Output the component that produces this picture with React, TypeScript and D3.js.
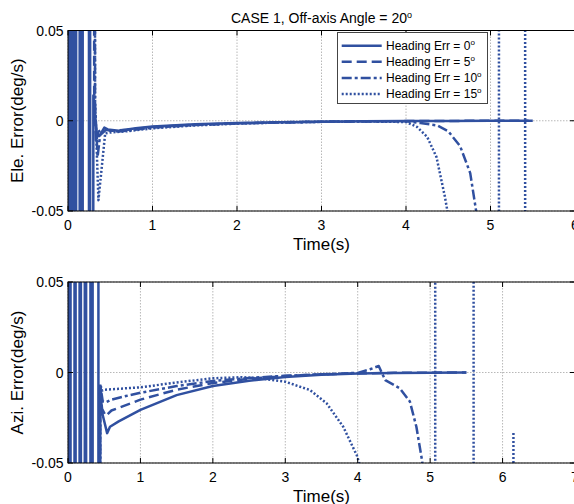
import React from "react";
import * as d3 from "d3";

type Pt = [number, number];

// line colour and styles for the 4 heading errors
const BLUE = "#3050a0";
const legendLabels = ["Heading Err = 0", "Heading Err = 5", "Heading Err = 10", "Heading Err = 15"];
const dashStyles = ["none", "10,5", "10,3,3,3", "2,2"];

const eleTicksX = [0, 1, 2, 3, 4, 5, 6];
const aziTicksX = [0, 1, 2, 3, 4, 5, 6, 7];
const yTicks = [-0.05, 0, 0.05];
const yTickLabels = ["-0.05", "0", "0.05"];

// Elevation rate error (deg/s), top panel
const eleH0: Pt[] = [
  [0.0, 1], [0.0, -1], [0.012, -1], [0.012, 1], [0.024, 1], [0.024, -1], [0.036, -1], [0.036, 1],
  [0.048, 1], [0.048, -1], [0.06, -1], [0.06, 1], [0.072, 1], [0.072, -1], [0.084, -1], [0.084, 1],
  [0.096, 1], [0.096, -1], [0.138, -1], [0.138, 1], [0.15, 1], [0.15, -1], [0.162, -1], [0.162, 1],
  [0.174, 1], [0.174, -1], [0.248, -1], [0.248, 1], [0.262, 1], [0.262, -1], [0.29, -1],
  [0.3, 0.014], [0.34, -0.008], [0.37, -0.0085], [0.43, -0.0038], [0.47, -0.0048], [0.6, -0.0055],
  [0.8, -0.0042], [1, -0.0032], [1.5, -0.002], [2, -0.0013], [2.5, -0.0009], [3, -0.0005],
  [3.5, -0.0003], [4, -0.0002], [4.5, -0.0001], [5, 0], [5.5, 0],
];
const eleH5: Pt[] = [
  [0.3, 1], [0.31, 0.016], [0.33, -0.012], [0.36, -0.006], [0.42, -0.0045], [0.5, -0.0055],
  [0.7, -0.005], [1, -0.0035], [1.5, -0.0022], [2, -0.0014], [2.5, -0.0009], [3, -0.0005],
  [3.5, -0.0003], [4, -0.0002], [4.5, -0.0001], [5, 0], [5.45, 0],
];
const eleH10: Pt[] = [
  [0.31, 1], [0.32, 0.01], [0.35, -0.02], [0.38, -0.008], [0.45, -0.005], [0.6, -0.006],
  [1, -0.0038], [1.5, -0.0024], [2, -0.0015], [2.5, -0.001], [3, -0.0006], [3.5, -0.0004],
  [4, -0.0003], [4.17, -0.0013], [4.37, -0.0026], [4.5, -0.0058], [4.64, -0.014], [4.76, -0.029],
  [4.83, -0.05], [4.86, -0.07],
];
const eleH15: Pt[] = [
  [0.3, 1], [0.32, 0.012], [0.36, -0.044], [0.44, -0.007], [0.5, -0.0065], [0.7, -0.0058],
  [1, -0.0042], [1.5, -0.0026], [2, -0.0016], [2.5, -0.001], [3, -0.0006], [3.5, -0.0004],
  [4, -0.0007], [4.13, -0.0034], [4.25, -0.0089], [4.36, -0.02], [4.46, -0.042], [4.49, -0.05],
  [4.55, -1], [5.1, -1], [5.1, 1], [5.41, 1], [5.41, -1],
];

// Azimuth rate error (deg/s), bottom panel
const aziH0: Pt[] = [
  [0.005, 1], [0.005, -1], [0.02, -1], [0.02, 1], [0.035, 1], [0.035, -1], [0.09, -1], [0.09, 1],
  [0.105, 1], [0.105, -1], [0.16, -1], [0.16, 1], [0.178, 1], [0.178, -1], [0.232, -1], [0.232, 1],
  [0.25, 1], [0.25, -1], [0.31, -1], [0.31, 1], [0.325, 1], [0.325, -1], [0.34, -1], [0.34, 1],
  [0.42, 1], [0.42, -1], [0.425, -1],
  [0.445, -0.008], [0.47, -0.022], [0.54, -0.0335], [0.58, -0.03], [0.7, -0.027], [1, -0.0207],
  [1.5, -0.0125], [2, -0.0075], [2.5, -0.0045], [3, -0.0025], [3.5, -0.0013], [4, -0.0006],
  [4.5, -0.0003], [5, -0.0001], [5.5, 0],
];
const aziH5: Pt[] = [
  [0.42, -1], [0.44, -0.0075], [0.47, -0.02], [0.52, -0.024], [0.6, -0.021], [0.8, -0.018],
  [1, -0.015], [1.5, -0.0095], [2, -0.0058], [2.5, -0.0035], [3, -0.002], [3.5, -0.001],
  [4, -0.0005], [4.5, -0.0002], [5, -0.0001], [5.5, 0],
];
const aziH10: Pt[] = [
  [0.43, -1], [0.445, -0.007], [0.48, -0.016], [0.52, -0.0165], [0.6, -0.015], [0.8, -0.013],
  [1, -0.0112], [1.5, -0.0075], [2, -0.0047], [2.5, -0.003], [3, -0.0018], [3.5, -0.001],
  [4, -0.0002], [4.17, 0.0018], [4.29, 0.0036], [4.38, -0.0042], [4.58, -0.0087], [4.72, -0.016],
  [4.81, -0.03], [4.89, -0.049], [4.92, -0.07],
];
const aziH15: Pt[] = [
  [0.43, -1], [0.445, -0.0065], [0.47, -0.01], [0.5, -0.0095], [0.7, -0.009], [1, -0.0082],
  [1.5, -0.0055], [2, -0.0032], [2.4, -0.0026], [2.65, -0.0032], [3, -0.0051], [3.34, -0.0097],
  [3.57, -0.017], [3.8, -0.03], [3.99, -0.046], [4.02, -0.05], [4.05, -1], [5.07, -1], [5.07, 1],
  [5.6, 1], [5.6, -1], [6.15, -1], [6.15, -0.033],
];

const FONT = "'Liberation Sans', Arial, Helvetica, sans-serif";
const LEFT = 68;
const RIGHT = 575;

function Panel(props: {
  id: string;
  top: number;
  bottom: number;
  xMax: number;
  xTicks: number[];
  series: Pt[][];
  yLabel: string;
  children?: React.ReactNode;
}) {
  const { id, top, bottom, xMax, xTicks, series, yLabel, children } = props;
  const x = d3.scaleLinear().domain([0, xMax]).range([LEFT, RIGHT]);
  const y = d3.scaleLinear().domain([-0.05, 0.05]).range([bottom, top]);
  const line = d3
    .line<Pt>()
    .x((d) => x(d[0]))
    .y((d) => y(d[1]));
  const tick = 5;

  return (
    <g>
      <defs>
        <clipPath id={id}>
          <rect x={LEFT} y={top} width={RIGHT - LEFT} height={bottom - top} />
        </clipPath>
      </defs>
      <rect x={LEFT} y={top} width={RIGHT - LEFT} height={bottom - top} fill="#fff" />

      {/* grid */}
      {xTicks.map((t) => (
        <line key={"gx" + t} x1={x(t)} x2={x(t)} y1={top} y2={bottom} stroke="#b8b8b8" strokeWidth={1} strokeDasharray="1.5,1.5" />
      ))}
      {yTicks.map((t) => (
        <line key={"gy" + t} x1={LEFT} x2={RIGHT} y1={y(t)} y2={y(t)} stroke="#b8b8b8" strokeWidth={1} strokeDasharray="1.5,1.5" />
      ))}

      {/* data */}
      <g clipPath={`url(#${id})`}>
        {series.map((s, i) => (
          <path
            key={i}
            d={line(s) ?? ""}
            fill="none"
            stroke={BLUE}
            strokeWidth={2.5}
            strokeDasharray={dashStyles[i]}
            strokeLinejoin="round"
          />
        ))}
      </g>

      {/* box and ticks */}
      <rect x={LEFT} y={top} width={RIGHT - LEFT} height={bottom - top} fill="none" stroke="#000" strokeWidth={1} />
      {xTicks.map((t) => (
        <g key={"tx" + t}>
          <line x1={x(t)} x2={x(t)} y1={bottom} y2={bottom - tick} stroke="#000" />
          <line x1={x(t)} x2={x(t)} y1={top} y2={top + tick} stroke="#000" />
          <text x={x(t)} y={bottom + 19} textAnchor="middle" fontSize={14} fontFamily={FONT}>
            {t}
          </text>
        </g>
      ))}
      {yTicks.map((t, i) => (
        <g key={"ty" + t}>
          <line x1={LEFT} x2={LEFT + tick} y1={y(t)} y2={y(t)} stroke="#000" />
          <line x1={RIGHT} x2={RIGHT - tick} y1={y(t)} y2={y(t)} stroke="#000" />
          <text x={LEFT - 4.5} y={y(t) + 5} textAnchor="end" fontSize={14} fontFamily={FONT}>
            {yTickLabels[i]}
          </text>
        </g>
      ))}

      <text x={(LEFT + RIGHT) / 2} y={bottom + 38.5} textAnchor="middle" fontSize={17} fontFamily={FONT}>
        Time(s)
      </text>
      <text
        transform={`translate(23,${(top + bottom) / 2}) rotate(-90)`}
        textAnchor="middle"
        fontSize={17}
        fontFamily={FONT}
      >
        {yLabel}
      </text>
      {children}
    </g>
  );
}

function Legend() {
  const x0 = 337.5;
  const y0 = 32.5;
  const rowH = 16.1;
  return (
    <g>
      <rect x={x0} y={y0} width={150} height={71} fill="#fff" stroke="#444" strokeWidth={1} />
      {legendLabels.map((lab, i) => {
        const cy = 45.7 + i * rowH;
        return (
          <g key={lab}>
            <line x1={341.7} x2={381.7} y1={cy} y2={cy} stroke={BLUE} strokeWidth={2.5} strokeDasharray={dashStyles[i]} />
            <text x={386} y={cy + 4.3} fontSize={12} fontFamily={FONT}>
              {lab}
              <tspan dy={-5} fontSize={8}>o</tspan>
            </text>
          </g>
        );
      })}
    </g>
  );
}

export default function App() {
  return (
    <svg
      width={574}
      height={504}
      style={{ position: "absolute", left: 0, top: 0, background: "#fff" }}
    >
      <rect x={0} y={0} width={574} height={504} fill="#fff" />
      <text x={(LEFT + RIGHT) / 2} y={23} textAnchor="middle" fontSize={14} fontFamily={FONT}>
        CASE 1, Off-axis Angle = 20
        <tspan dy={-5} fontSize={9}>o</tspan>
      </text>
      <Panel
        id="clipEle"
        top={30.5}
        bottom={211}
        xMax={6}
        xTicks={eleTicksX}
        series={[eleH0, eleH5, eleH10, eleH15]}
        yLabel="Ele. Error(deg/s)"
      >
        <Legend />
      </Panel>
      <Panel
        id="clipAzi"
        top={282}
        bottom={463}
        xMax={7}
        xTicks={aziTicksX}
        series={[aziH0, aziH5, aziH10, aziH15]}
        yLabel="Azi. Error(deg/s)"
      />
    </svg>
  );
}
